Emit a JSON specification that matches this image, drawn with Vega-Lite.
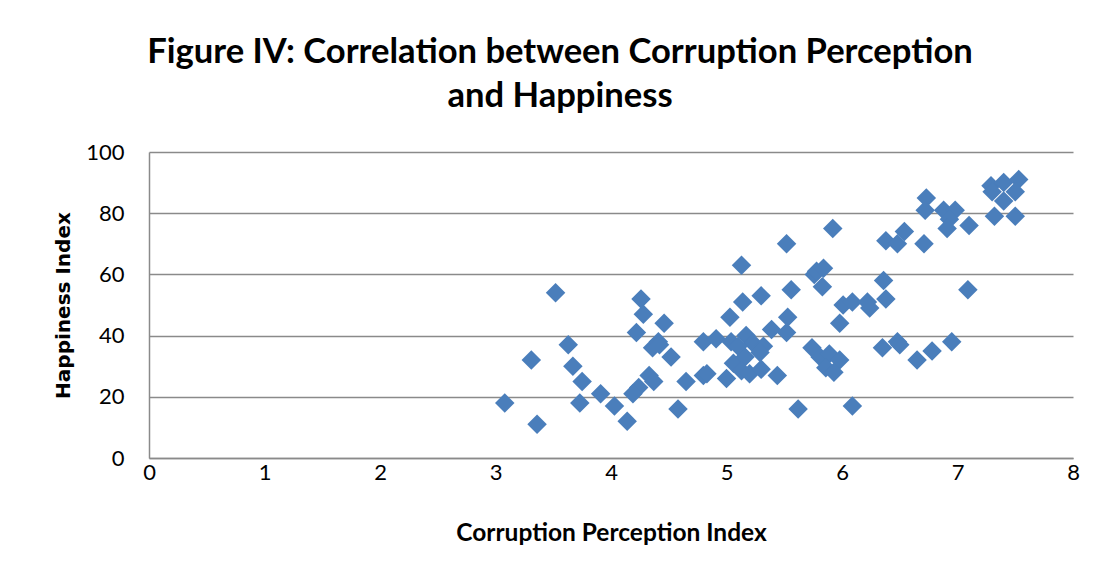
{
  "$schema": "https://vega.github.io/schema/vega-lite/v6.json",
  "autosize": {"type": "none"},
  "width": 924,
  "height": 306,
  "padding": {"left": 149, "top": 152, "right": 31, "bottom": 121},
  "background": "white",
  "title": {
    "text": ["Figure IV: Correlation between Corruption Perception", "and Happiness"],
    "font": "Lato",
    "fontSize": 34.6,
    "fontWeight": "bold",
    "color": "#000000",
    "anchor": "middle",
    "frame": "group",
    "dx": -51,
    "lineHeight": 44,
    "offset": 26
  },
  "data": {
    "values": [
      {"cpi": 3.08, "happiness": 18},
      {"cpi": 3.31, "happiness": 32},
      {"cpi": 3.36, "happiness": 11},
      {"cpi": 3.52, "happiness": 54},
      {"cpi": 3.63, "happiness": 37},
      {"cpi": 3.67, "happiness": 30},
      {"cpi": 3.75, "happiness": 25},
      {"cpi": 3.73, "happiness": 18},
      {"cpi": 3.91, "happiness": 21},
      {"cpi": 4.03, "happiness": 17},
      {"cpi": 4.14, "happiness": 12},
      {"cpi": 4.26, "happiness": 52},
      {"cpi": 4.28, "happiness": 47},
      {"cpi": 4.22, "happiness": 41},
      {"cpi": 4.46, "happiness": 44},
      {"cpi": 4.41, "happiness": 38},
      {"cpi": 4.36, "happiness": 36},
      {"cpi": 4.42, "happiness": 37},
      {"cpi": 4.52, "happiness": 33},
      {"cpi": 4.33, "happiness": 27},
      {"cpi": 4.37, "happiness": 25},
      {"cpi": 4.24, "happiness": 23},
      {"cpi": 4.19, "happiness": 21},
      {"cpi": 4.58, "happiness": 16},
      {"cpi": 4.65, "happiness": 25},
      {"cpi": 4.80, "happiness": 38},
      {"cpi": 4.91, "happiness": 39},
      {"cpi": 4.80, "happiness": 27},
      {"cpi": 4.83, "happiness": 27.5},
      {"cpi": 5.00, "happiness": 26},
      {"cpi": 5.03, "happiness": 46},
      {"cpi": 5.04, "happiness": 38},
      {"cpi": 5.17, "happiness": 40},
      {"cpi": 5.23, "happiness": 37.5},
      {"cpi": 5.10, "happiness": 36.5},
      {"cpi": 5.32, "happiness": 36.5},
      {"cpi": 5.29, "happiness": 34.5},
      {"cpi": 5.06, "happiness": 31},
      {"cpi": 5.16, "happiness": 33},
      {"cpi": 5.13, "happiness": 28.5},
      {"cpi": 5.20, "happiness": 27.5},
      {"cpi": 5.30, "happiness": 29},
      {"cpi": 5.44, "happiness": 27},
      {"cpi": 5.13, "happiness": 63},
      {"cpi": 5.14, "happiness": 51},
      {"cpi": 5.30, "happiness": 53},
      {"cpi": 5.52, "happiness": 70},
      {"cpi": 5.56, "happiness": 55},
      {"cpi": 5.53, "happiness": 46},
      {"cpi": 5.39, "happiness": 42},
      {"cpi": 5.52, "happiness": 41},
      {"cpi": 5.74, "happiness": 36},
      {"cpi": 5.81, "happiness": 33},
      {"cpi": 5.89, "happiness": 34},
      {"cpi": 5.98, "happiness": 32},
      {"cpi": 5.86, "happiness": 29.5},
      {"cpi": 5.93, "happiness": 28},
      {"cpi": 5.62, "happiness": 16},
      {"cpi": 6.09, "happiness": 17},
      {"cpi": 5.92, "happiness": 75},
      {"cpi": 5.76, "happiness": 60},
      {"cpi": 5.78, "happiness": 61},
      {"cpi": 5.84, "happiness": 62},
      {"cpi": 5.83, "happiness": 56},
      {"cpi": 6.01, "happiness": 50},
      {"cpi": 6.09, "happiness": 51},
      {"cpi": 6.22, "happiness": 51},
      {"cpi": 6.24, "happiness": 49},
      {"cpi": 5.98, "happiness": 44},
      {"cpi": 6.38, "happiness": 71},
      {"cpi": 6.54, "happiness": 74},
      {"cpi": 6.48, "happiness": 70},
      {"cpi": 6.71, "happiness": 70},
      {"cpi": 6.36, "happiness": 58},
      {"cpi": 6.38, "happiness": 52},
      {"cpi": 6.35, "happiness": 36},
      {"cpi": 6.48, "happiness": 38},
      {"cpi": 6.50, "happiness": 37},
      {"cpi": 6.65, "happiness": 32},
      {"cpi": 6.78, "happiness": 35},
      {"cpi": 6.95, "happiness": 38},
      {"cpi": 7.09, "happiness": 55},
      {"cpi": 6.73, "happiness": 85},
      {"cpi": 6.72, "happiness": 81},
      {"cpi": 6.88, "happiness": 81},
      {"cpi": 6.98, "happiness": 81},
      {"cpi": 6.93, "happiness": 78},
      {"cpi": 6.91, "happiness": 75},
      {"cpi": 7.10, "happiness": 76},
      {"cpi": 7.29, "happiness": 89},
      {"cpi": 7.40, "happiness": 90},
      {"cpi": 7.53, "happiness": 91},
      {"cpi": 7.30, "happiness": 87},
      {"cpi": 7.50, "happiness": 87},
      {"cpi": 7.40, "happiness": 84},
      {"cpi": 7.32, "happiness": 79},
      {"cpi": 7.50, "happiness": 79}
    ]
  },
  "mark": {"type": "point", "shape": "diamond", "filled": true, "size": 380, "color": "#4a7ebb", "opacity": 1},
  "encoding": {
    "x": {
      "field": "cpi",
      "type": "quantitative",
      "scale": {"domain": [0, 8], "nice": false, "zero": true},
      "axis": {
        "title": "Corruption Perception Index",
        "values": [0, 1, 2, 3, 4, 5, 6, 7, 8],
        "grid": false,
        "ticks": false,
        "domainColor": "#8a8a8a",
        "domainWidth": 1.5,
        "labelFont": "Lato",
        "labelFontSize": 22,
        "labelColor": "#000000",
        "labelPadding": 4,
        "labelFlush": false,
        "titleFont": "Lato",
        "titleFontSize": 24.5,
        "titleFontWeight": "bold",
        "titleColor": "#000000",
        "titlePadding": 38
      }
    },
    "y": {
      "field": "happiness",
      "type": "quantitative",
      "scale": {"domain": [0, 100], "nice": false},
      "axis": {
        "title": "Happiness Index",
        "values": [0, 20, 40, 60, 80, 100],
        "grid": true,
        "gridColor": "#8a8a8a",
        "gridWidth": 1.5,
        "ticks": false,
        "domainColor": "#8a8a8a",
        "domainWidth": 1.5,
        "labelFont": "Lato",
        "labelFontSize": 22,
        "labelColor": "#000000",
        "labelPadding": 25,
        "labelFlush": false,
        "titleFont": "DejaVu Sans",
        "titleFontSize": 20,
        "titleFontWeight": "bold",
        "titleColor": "#000000",
        "titlePadding": 12
      }
    }
  },
  "config": {
    "view": {"stroke": null}
  }
}
